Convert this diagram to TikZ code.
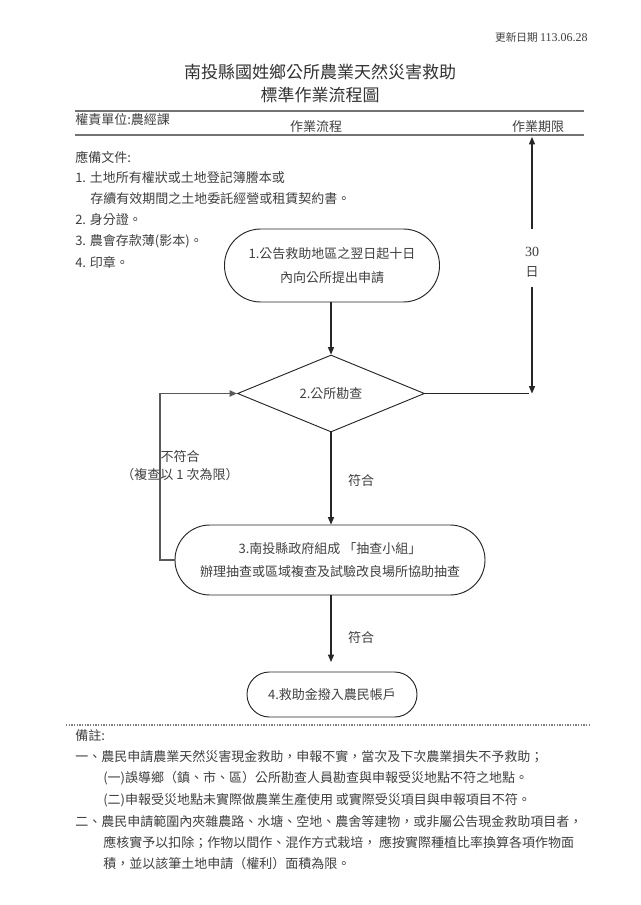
\documentclass[tikz,border=0pt]{standalone}
\usepackage{fontspec}
\setmainfont{Noto Sans CJK TC}
\newfontfamily\numfont{Liberation Serif}
\usetikzlibrary{shapes.geometric,arrows.meta}
\begin{document}
\begin{tikzpicture}[x=0.75pt,y=-0.75pt,
  txt/.style={text=black!75, font=\fontsize{9.75pt}{17.5pt}\selectfont, inner sep=0pt},
  lefttxt/.style={txt, anchor=west},
  titletxt/.style={text=black!80, font=\fontsize{12.75pt}{15pt}\selectfont, inner sep=0pt},
  stadium/.style={txt, draw=black!85, line width=0.7pt, rounded corners=#1, align=center},
  decision/.style={txt, diamond, aspect=2.43, draw=black!85, line width=0.7pt},
  flow/.style={draw=black!85, line width=0.8pt, -{Triangle[length=5.5pt,width=4.5pt]}},
  plainline/.style={draw=black!85, line width=0.8pt},
  loopline/.style={draw=black!65, line width=1.3pt, -{Triangle[length=5.5pt,width=4.5pt]}},
  rulestyle/.style={draw=black!55, line width=1.4pt},
]
\fill[white] (0,0) rectangle (640,905);

% header
\node[txt, anchor=east, font=\fontsize{8pt}{10pt}\selectfont] (date) at (588,37) {更新日期 {\numfont\fontsize{9pt}{10pt}\selectfont 113.06.28}};
\node[titletxt] (title1) at (320,72) {南投縣國姓鄉公所農業天然災害救助};
\node[titletxt] (title2) at (320,95) {標準作業流程圖};
\coordinate (r1a) at (75,111); \coordinate (r1b) at (584,111);
\coordinate (r2a) at (75,135); \coordinate (r2b) at (584,135);
\draw[rulestyle] (r1a) -- (r1b);
\draw[rulestyle] (r2a) -- (r2b);
\node[lefttxt] (unit) at (75,120) {權責單位:農經課};
\node[txt] (hflow) at (316,127) {作業流程};
\node[txt] (hlimit) at (538,127) {作業期限};

% required documents
\node[lefttxt] (docs) at (75,157) {應備文件:};
\node[lefttxt] (doc1) at (75,178) {1. 土地所有權狀或土地登記簿謄本或};
\node[lefttxt] (doc1b) at (90,199) {存續有效期間之土地委託經營或租賃契約書。};
\node[lefttxt] (doc2) at (75,220) {2. 身分證。};
\node[lefttxt] (doc3) at (75,241) {3. 農會存款薄(影本)。};
\node[lefttxt] (doc4) at (75,262) {4. 印章。};

% flow nodes
\node[stadium=27.2pt, minimum width=161.25pt, minimum height=54.75pt] (n1) at (332,265.5)
  {1.公告救助地區之翌日起十日\\內向公所提出申請};
\node[decision, minimum width=140.25pt, minimum height=57.75pt] (d2) at (331,393.5) {2.公所勘查};
\node[stadium=26.2pt, minimum width=232.5pt, minimum height=52.5pt] (n3) at (330,560)
  {3.南投縣政府組成 「抽查小組」\\辦理抽查或區域複查及試驗改良場所協助抽查};
\node[stadium=16.8pt, minimum width=127.5pt, minimum height=33.75pt] (n4) at (332,694.5)
  {4.救助金撥入農民帳戶};

% connectors
\draw[flow] (n1.south -| d2.north) -- (d2.north);
\draw[flow] (d2.south) -- (d2.south |- n3.north);
\coordinate (a4) at (331,662);
\draw[flow] (n3.south -| a4) -- (a4);
\node[txt] (ok1) at (361,481) {符合};
\node[txt] (ok2) at (361,638) {符合};

% loop back
\coordinate (loopx) at (160,560);
\draw[loopline] (n3.west) -- (loopx) |- (d2.west);
\node[txt] (ng1) at (180,457) {不符合};
\node[txt] (ng2) at (180,475) {（複查以 1 次為限）};

% time limit
\node[txt, font=\numfont\fontsize{10.5pt}{12pt}\selectfont] (n30) at (532,252) {30};
\node[txt] (nday) at (532,272) {日};
\coordinate (tTop) at (532,137);
\coordinate (gTop) at (532,229);
\coordinate (gBot) at (532,287);
\coordinate (tBot) at (532,393.5);
\coordinate (hEnd) at (529,393.5);
\draw[flow] (gTop) -- (tTop);
\draw[flow] (gBot) -- (tBot);
\draw[plainline] (d2.east) -- (hEnd);

% dotted separator
\coordinate (dl) at (66,725); \coordinate (dr) at (590,725);
\draw[draw=black!50, line width=0.9pt, dash pattern=on 1pt off 1pt] (dl) -- (dr);

% remarks
\node[lefttxt] (rem) at (75,736) {備註:};
\node[lefttxt] (rem1) at (75,757) {一、農民申請農業天然災害現金救助，申報不實，當次及下次農業損失不予救助；};
\node[lefttxt] (rem1a) at (103,778) {(一)誤導鄉（鎮、市、區）公所勘查人員勘查與申報受災地點不符之地點。};
\node[lefttxt] (rem1b) at (103,800) {(二)申報受災地點未實際做農業生產使用 或實際受災項目與申報項目不符。};
\node[lefttxt] (rem2) at (75,822) {二、農民申請範圍內夾雜農路、水塘、空地、農舍等建物，或非屬公告現金救助項目者，};
\node[lefttxt] (rem2a) at (103,843) {應核實予以扣除；作物以間作、混作方式栽培， 應按實際種植比率換算各項作物面};
\node[lefttxt] (rem2b) at (103,864) {積，並以該筆土地申請（權利）面積為限。};
\end{tikzpicture}
\end{document}
